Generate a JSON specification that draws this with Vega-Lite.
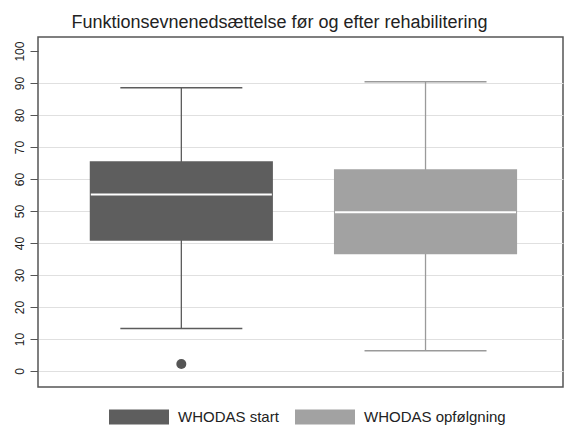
{
  "$schema": "https://vega.github.io/schema/vega-lite/v6.json",
  "autosize": {"type": "none"},
  "padding": {"left": 38, "top": 37, "right": 5, "bottom": 38},
  "width": 525,
  "height": 350,
  "background": "white",
  "title": {
    "text": "Funktionsevnenedsættelse før og efter rehabilitering",
    "font": "Liberation Sans",
    "fontSize": 18,
    "fontWeight": "normal",
    "color": "#222222",
    "anchor": "middle",
    "frame": "group",
    "dx": -21,
    "dy": 17,
    "baseline": "alphabetic",
    "offset": 8
  },
  "config": {
    "view": {"stroke": "#555555", "strokeWidth": 1.5},
    "font": "Liberation Sans",
    "axisY": {
      "title": null,
      "domain": false,
      "ticks": true,
      "tickSize": 8,
      "tickColor": "#555555",
      "tickWidth": 1,
      "tickCount": 11,
      "labelAngle": -90,
      "labelOverlap": false,
      "labelFlush": false,
      "labelFont": "Liberation Sans",
      "labelFontSize": 12,
      "labelColor": "#222222",
      "labelPadding": 4,
      "grid": true,
      "gridColor": "#e0e0e0",
      "gridWidth": 1
    }
  },
  "datasets": {
    "boxes": [
      {"group": "WHODAS start", "lower": 13.3, "q1": 40.7, "median": 55.2, "q3": 65.6, "upper": 88.5},
      {"group": "WHODAS opfølgning", "lower": 6.3, "q1": 36.5, "median": 49.6, "q3": 63.1, "upper": 90.4}
    ],
    "outliers": [
      {"group": "WHODAS start", "value": 2.2}
    ]
  },
  "data": {"name": "boxes"},
  "encoding": {
    "x": {
      "field": "group",
      "type": "nominal",
      "axis": null,
      "sort": ["WHODAS start", "WHODAS opfølgning"],
      "scale": {"paddingInner": 0.25, "paddingOuter": 0.2, "align": 0.53}
    }
  },
  "layer": [
    {
      "mark": {"type": "rule", "strokeWidth": 1.3},
      "encoding": {
        "y": {
          "field": "lower",
          "type": "quantitative",
          "scale": {"domain": [-5, 104.4], "nice": false, "zero": false},
          "axis": {
            "values": [0, 10, 20, 30, 40, 50, 60, 70, 80, 90, 100],
            "gridOpacity": {"condition": {"test": "datum.value >= 100", "value": 0}, "value": 1}
          }
        },
        "y2": {"field": "upper"},
        "stroke": {
          "field": "group",
          "type": "nominal",
          "legend": null,
          "scale": {"domain": ["WHODAS start", "WHODAS opfølgning"], "range": ["#5c5c5c", "#9a9a9a"]}
        }
      }
    },
    {
      "mark": {"type": "tick", "size": 122, "thickness": 1.5, "orient": "horizontal", "opacity": 1},
      "encoding": {
        "y": {"field": "lower", "type": "quantitative", "axis": {"values": [0, 10, 20, 30, 40, 50, 60, 70, 80, 90, 100]}},
        "color": {
          "field": "group",
          "type": "nominal",
          "legend": null,
          "scale": {"domain": ["WHODAS start", "WHODAS opfølgning"], "range": ["#5c5c5c", "#9a9a9a"]}
        }
      }
    },
    {
      "mark": {"type": "tick", "size": 122, "thickness": 1.5, "orient": "horizontal", "opacity": 1},
      "encoding": {
        "y": {"field": "upper", "type": "quantitative", "axis": {"values": [0, 10, 20, 30, 40, 50, 60, 70, 80, 90, 100]}},
        "color": {
          "field": "group",
          "type": "nominal",
          "legend": null,
          "scale": {"domain": ["WHODAS start", "WHODAS opfølgning"], "range": ["#5c5c5c", "#9a9a9a"]}
        }
      }
    },
    {
      "mark": {"type": "bar", "opacity": 1},
      "encoding": {
        "y": {"field": "q1", "type": "quantitative", "axis": {"values": [0, 10, 20, 30, 40, 50, 60, 70, 80, 90, 100]}},
        "y2": {"field": "q3"},
        "fill": {
          "field": "group",
          "type": "nominal",
          "sort": ["WHODAS start", "WHODAS opfølgning"],
          "scale": {"domain": ["WHODAS start", "WHODAS opfølgning"], "range": ["#5e5e5e", "#a2a2a2"]},
          "legend": {
            "title": null,
            "orient": "none",
            "direction": "horizontal",
            "legendX": 71,
            "legendY": 350,
            "padding": 0,
            "symbolType": "M-1,-0.25H1V0.25H-1Z",
            "symbolSize": 3600,
            "symbolStrokeWidth": 0,
            "symbolOpacity": 1,
            "labelFont": "Liberation Sans",
            "labelFontSize": 15,
            "labelColor": "#222222",
            "labelOffset": 9,
            "columnPadding": 16,
            "gridAlign": "none",
            "labelLimit": 300
          }
        }
      }
    },
    {
      "mark": {"type": "tick", "size": 181, "thickness": 2, "color": "white", "orient": "horizontal", "opacity": 1},
      "encoding": {
        "y": {"field": "median", "type": "quantitative", "axis": {"values": [0, 10, 20, 30, 40, 50, 60, 70, 80, 90, 100]}}
      }
    },
    {
      "data": {"name": "outliers"},
      "mark": {"type": "point", "filled": true, "size": 100, "color": "#555555", "opacity": 1},
      "encoding": {
        "y": {"field": "value", "type": "quantitative", "axis": {"values": [0, 10, 20, 30, 40, 50, 60, 70, 80, 90, 100]}}
      }
    }
  ],
  "resolve": {"scale": {"color": "independent", "fill": "independent", "stroke": "independent"}}
}
